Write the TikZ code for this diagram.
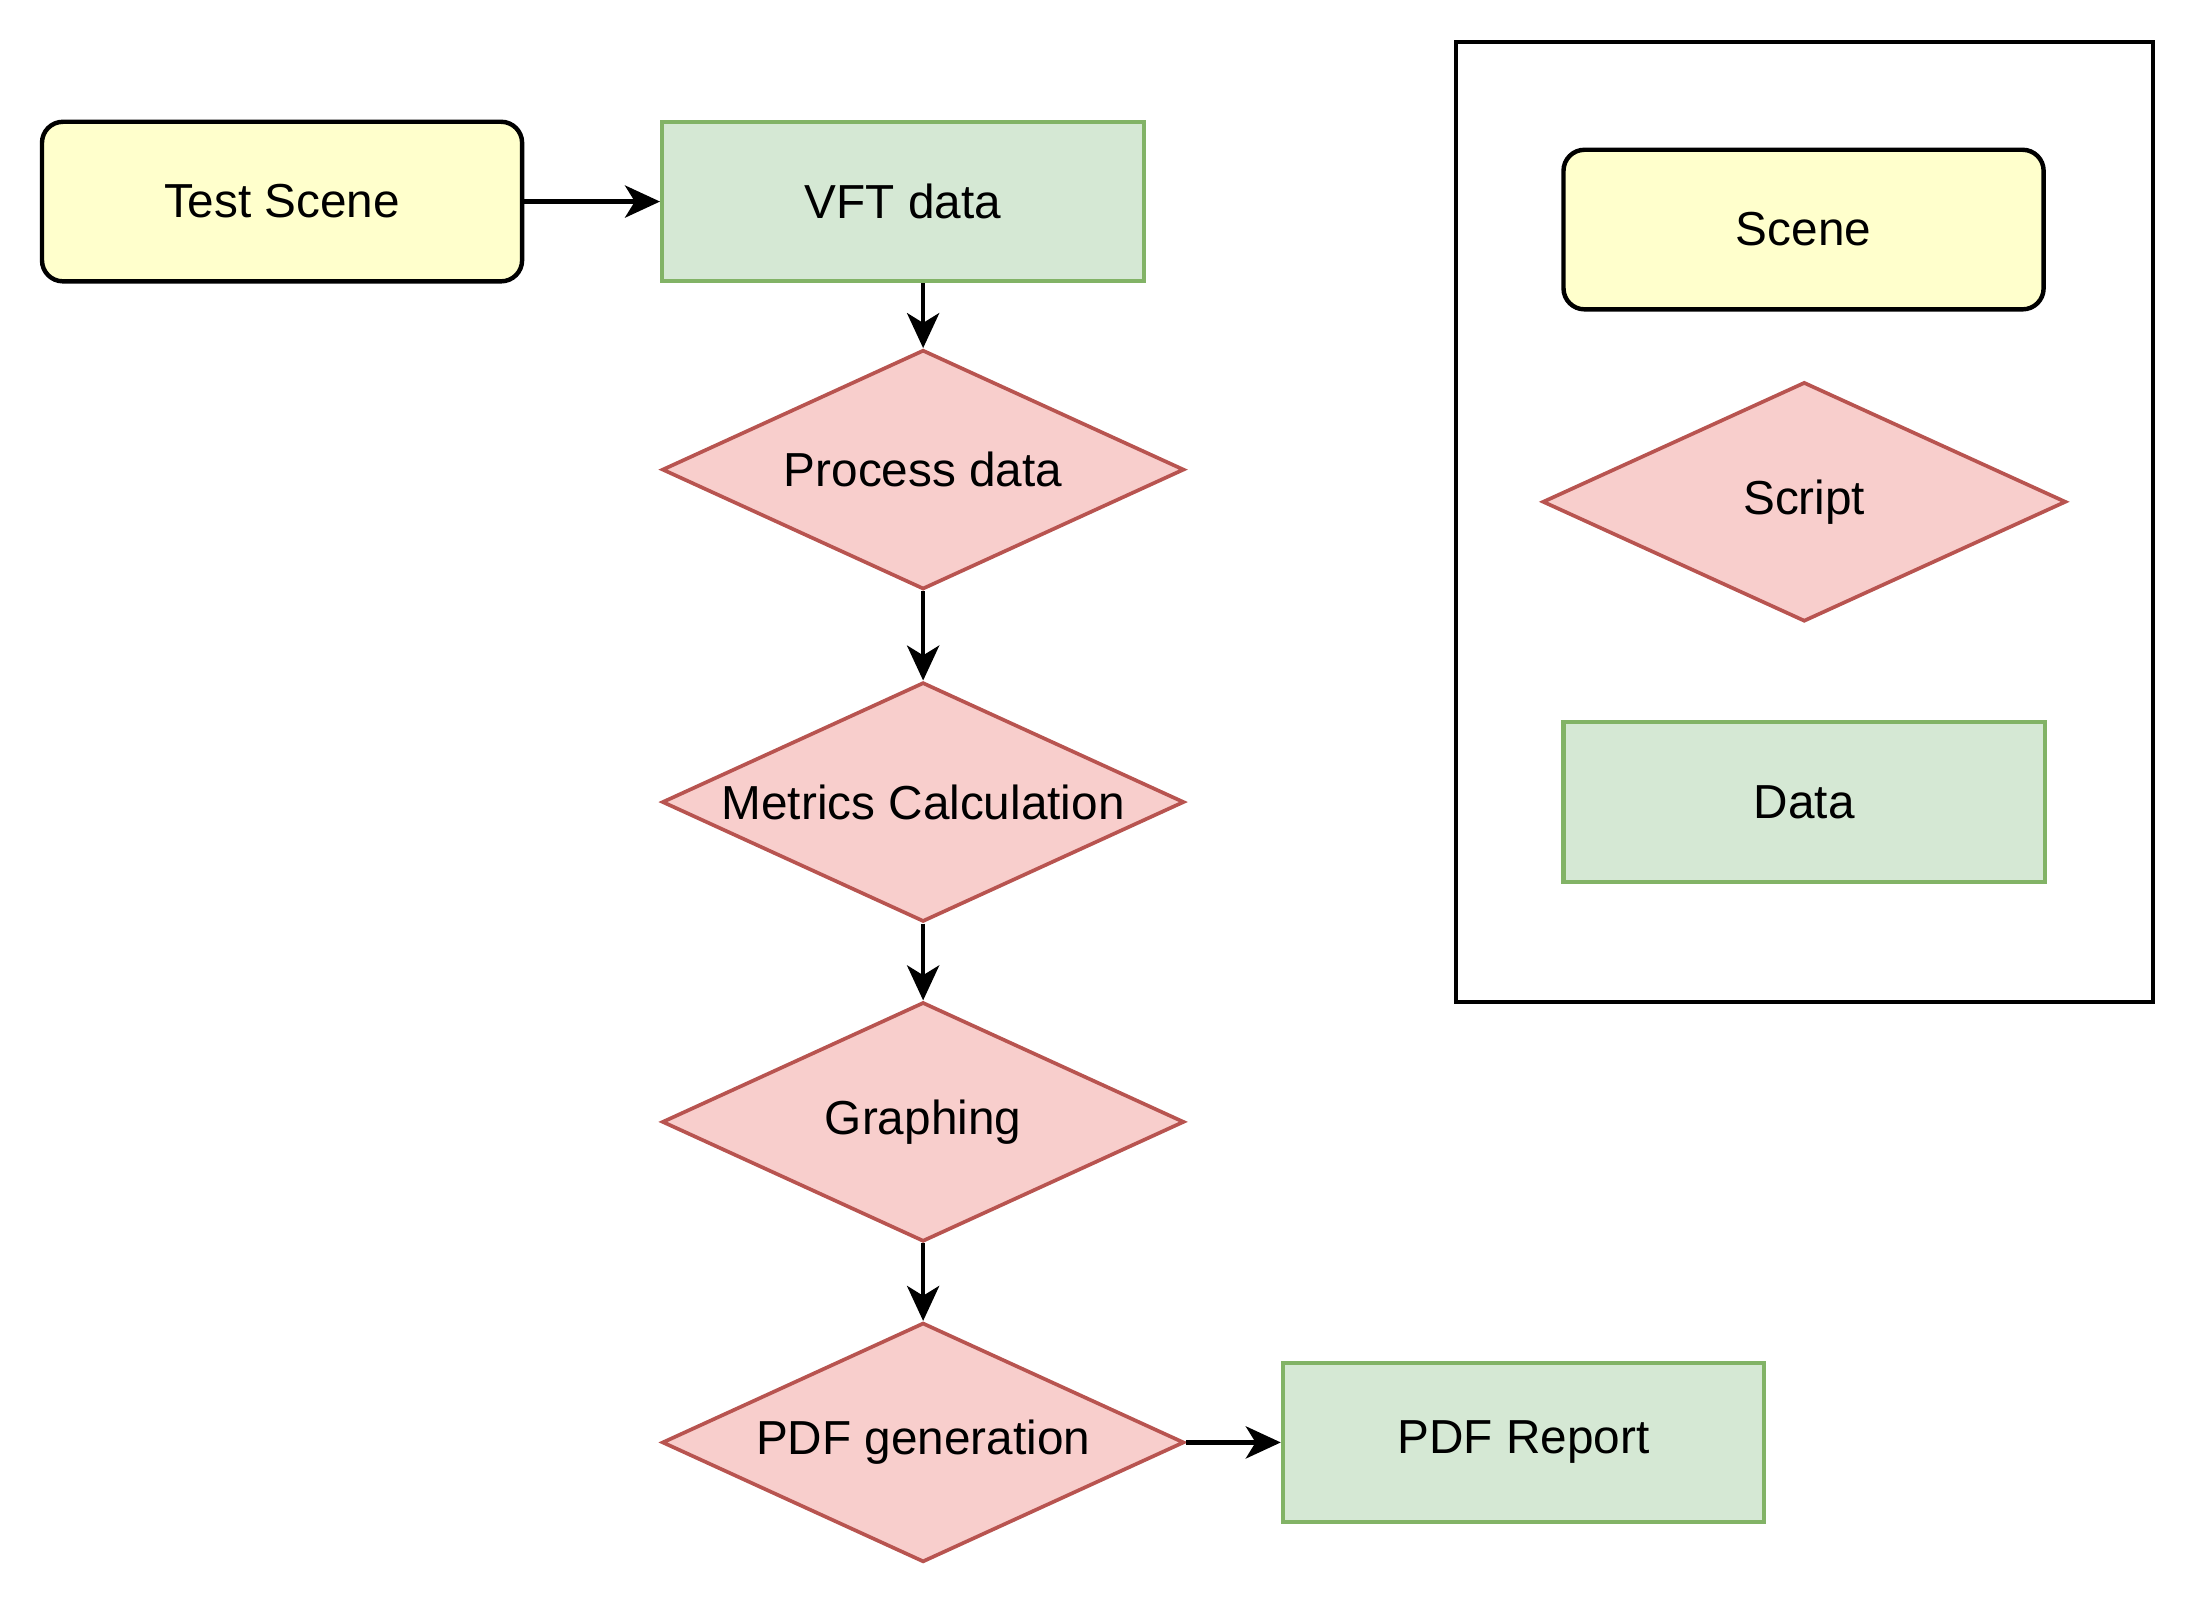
\documentclass[tikz,border=0pt]{standalone}
\usepackage{fontspec}
\setmainfont{Liberation Sans}
\usetikzlibrary{shapes.geometric,arrows.meta}
\definecolor{scenefill}{HTML}{FFFFCC}
\definecolor{datafill}{HTML}{D5E8D4}
\definecolor{datadraw}{HTML}{82B366}
\definecolor{scriptfill}{HTML}{F8CECC}
\definecolor{scriptdraw}{HTML}{B85450}
\tikzset{
  lbl/.style={font=\fontsize{9.7pt}{11pt}\selectfont, text=black},
  scenebox/.style={lbl, draw=black, fill=scenefill, line width=0.9pt, rounded corners=0.15cm,
    minimum width=3.43cm, minimum height=1.14cm, inner sep=0pt},
  databox/.style={lbl, draw=datadraw, fill=datafill, line width=0.85pt,
    minimum width=3.44cm, minimum height=1.14cm, inner sep=0pt},
  scriptbox/.style={lbl, draw=scriptdraw, fill=scriptfill, line width=0.75pt, diamond, aspect=2.18,
    minimum width=3.73cm, minimum height=1.71cm, inner sep=0pt},
  legendbox/.style={draw=black, line width=0.9pt, minimum width=4.98cm, minimum height=6.86cm, inner sep=0pt},
  conn/.style={draw=black, line width=0.85pt, -{Stealth[length=0.25cm, width=0.23cm, inset=0.07cm]}}
}
\begin{document}
\begin{tikzpicture}
\useasboundingbox (0,0) rectangle (15.66,-11.46);
\node[legendbox] (legend) at (12.89,-3.73) {};
\node[scenebox] (ts) at (2.015,-1.44) {Test Scene};
\node[databox] (vft) at (6.45,-1.44) {VFT data};
\node[scriptbox] (pd) at (6.595,-3.355) {Process data};
\node[scriptbox] (mc) at (6.595,-5.73) {Metrics Calculation};
\node[scriptbox] (gr) at (6.595,-8.015) {Graphing};
\node[scriptbox] (pg) at (6.595,-10.305) {PDF generation};
\node[databox] (rep) at (10.885,-10.305) {PDF Report};
\node[scenebox] (lscene) at (12.885,-1.64) {Scene};
\node[scriptbox, minimum width=3.74cm] (lscript) at (12.89,-3.585) {Script};
\node[databox] (ldata) at (12.89,-5.73) {Data};
\draw[conn] (ts.east) -- (vft.west);
\draw[conn] (pd.north |- vft.south) -- (pd.north);
\draw[conn] (pd.south) -- (mc.north);
\draw[conn] (mc.south) -- (gr.north);
\draw[conn] (gr.south) -- (pg.north);
\draw[conn] (pg.east) -- (rep.west);
\end{tikzpicture}
\end{document}
